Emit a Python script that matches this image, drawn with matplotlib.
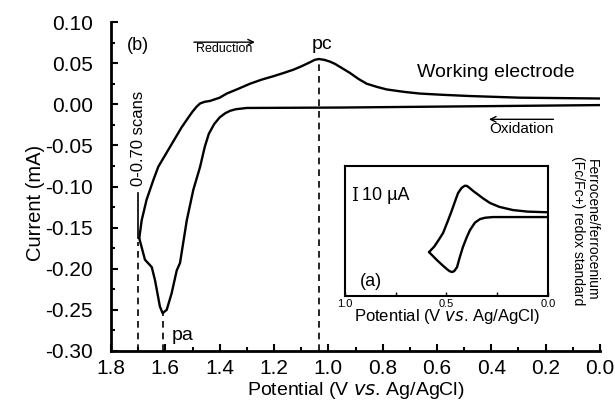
import matplotlib
matplotlib.use("Agg")
import matplotlib.pyplot as plt
from matplotlib.ticker import MultipleLocator, FormatStrFormatter

plt.rcParams['font.family'] = ['Liberation Sans', 'DejaVu Sans']

# Main CV (b): potential (V vs Ag/AgCl) and current (mA)
fwd_v = [1.696, 1.687, 1.669, 1.644, 1.626, 1.583, 1.540, 1.515, 1.500, 1.485, 1.472,
         1.455, 1.436, 1.40, 1.374, 1.33, 1.288, 1.245, 1.203, 1.165, 1.129, 1.10,
         1.068, 1.05, 1.035, 1.015, 0.995, 0.975, 0.95, 0.92, 0.89, 0.859, 0.82,
         0.785, 0.72, 0.663, 0.58, 0.479, 0.295, 0.0]
fwd_i = [-0.163, -0.141, -0.116, -0.092, -0.076, -0.052, -0.028, -0.016, -0.009, -0.003, 0.001,
         0.003, 0.004, 0.008, 0.013, 0.019, 0.025, 0.030, 0.034, 0.038, 0.042, 0.046,
         0.051, 0.054, 0.055, 0.054, 0.052, 0.049, 0.044, 0.038, 0.031, 0.025, 0.021,
         0.018, 0.015, 0.013, 0.0115, 0.010, 0.008, 0.007]
rev_v = [0.0, 0.957, 1.30, 1.34, 1.362, 1.38, 1.40, 1.42, 1.44, 1.455, 1.472, 1.497,
         1.521, 1.546, 1.558, 1.577, 1.595, 1.610, 1.620, 1.638, 1.650, 1.675, 1.696]
rev_i = [-0.001, -0.004, -0.0045, -0.006, -0.008, -0.011, -0.016, -0.024, -0.036, -0.052,
         -0.076, -0.104, -0.141, -0.193, -0.202, -0.230, -0.250, -0.254, -0.246, -0.214,
         -0.198, -0.189, -0.163]

# Inset (a): ferrocene standard, potential (V) and current (uA)
ins_up_v = [0.586, 0.56, 0.535, 0.517, 0.495, 0.473, 0.455, 0.443, 0.425, 0.41, 0.399,
            0.385, 0.365, 0.35, 0.32, 0.286, 0.24, 0.172, 0.10, 0.0]
ins_up_i = [-21.8, -18.5, -14.0, -10.6, -4.0, 2.9, 9.0, 12.9, 16.0, 17.2, 17.1,
            15.8, 13.8, 12.5, 9.8, 7.1, 4.8, 2.9, 2.0, 1.6]
ins_lo_v = [0.0, 0.271, 0.31, 0.335, 0.36, 0.384, 0.40, 0.419, 0.435, 0.448, 0.462,
            0.473, 0.485, 0.498, 0.52, 0.547, 0.586]
ins_lo_i = [-1.2, -1.2, -1.6, -2.4, -4.5, -8.8, -13.0, -18.8, -25.0, -30.6, -33.0,
            -33.5, -33.0, -31.8, -29.5, -26.5, -21.8]

pc_v, pc_i = 1.035, 0.055
pa_v, pa_i = 1.61, -0.254
scan_v, scan_i = 1.70, -0.163

fig = plt.figure(figsize=(6.15, 4.01), dpi=100)
ax = fig.add_axes([0.1805, 0.1247, 0.7951, 0.8204])

kw = dict(color='black', lw=1.7, solid_joinstyle='round', solid_capstyle='round')
ax.plot(fwd_v, fwd_i, **kw)
ax.plot(rev_v, rev_i, **kw)

ax.set_xlim(1.8, 0.0)
ax.set_ylim(-0.30, 0.10)
for s in ['top', 'right']:
    ax.spines[s].set_visible(False)
for s in ['left', 'bottom']:
    ax.spines[s].set_linewidth(2)
ax.xaxis.set_major_locator(MultipleLocator(0.2))
ax.xaxis.set_minor_locator(MultipleLocator(0.1))
ax.yaxis.set_major_locator(MultipleLocator(0.05))
ax.yaxis.set_minor_locator(MultipleLocator(0.025))
ax.tick_params(which='both', direction='in', width=1.5, labelsize=15)
ax.tick_params(which='major', length=5)
ax.tick_params(which='minor', length=3)
ax.tick_params(axis='x', which='major', pad=6)
ax.tick_params(axis='y', which='major', pad=13)
ax.xaxis.set_major_formatter(FormatStrFormatter('%.1f'))
ax.yaxis.set_major_formatter(FormatStrFormatter('%.2f'))
ax.set_xlabel('Potential (V $\\it{vs}$. Ag/AgCl)', fontsize=14)
ax.xaxis.set_label_coords(0.5, -0.087)
ax.set_ylabel('Current (mA)', fontsize=14.5)
ax.yaxis.set_label_coords(-0.135, 0.45)

# marker lines
dash = (0, (4, 3))
ax.plot([pc_v, pc_v], [-0.30, pc_i], color='black', lw=1.2, ls=dash)
ax.plot([pa_v, pa_v], [-0.30, pa_i], color='black', lw=1.2, ls=dash)
ax.plot([scan_v, scan_v], [-0.30, scan_i - 0.005], color='black', lw=1.2, ls=dash)
ax.plot([scan_v, scan_v], [scan_i, -0.108], color='black', lw=1.2)

ax.text(1.70, -0.041, '0-0.70 scans', rotation=90, fontsize=12, ha='center', va='center')
ax.text(1.70, 0.072, '(b)', fontsize=13, ha='center', va='center')
ax.text(1.024, 0.073, 'pc', fontsize=14, ha='center', va='center')
ax.text(1.576, -0.281, 'pa', fontsize=14, ha='left', va='center')
ax.text(0.674, 0.039, 'Working electrode', fontsize=14, ha='left', va='center')

ax.annotate('', xy=(1.26, 0.0755), xytext=(1.505, 0.0755),
            arrowprops=dict(arrowstyle='->', lw=1.0, color='black'))
ax.text(1.384, 0.0675, 'Reduction', fontsize=9, ha='center', va='center')
ax.annotate('', xy=(0.419, -0.0183), xytext=(0.161, -0.0183),
            arrowprops=dict(arrowstyle='->', lw=1.0, color='black'))
ax.text(0.291, -0.0305, 'Oxidation', fontsize=11, ha='center', va='center')

fig.text(0.951, 0.426, 'Ferrocene/ferrocenium\n(Fc/Fc+) redox standard',
         rotation=270, fontsize=10, ha='center', va='center', linespacing=0.95)

# inset
ins = fig.add_axes([0.561, 0.2618, 0.330, 0.3242])
ins.plot(ins_up_v, ins_up_i, **kw)
ins.plot(ins_lo_v, ins_lo_i, **kw)
ins.set_xlim(1.0, 0.0)
ins.set_ylim(-47.6, 28.8)
for s in ins.spines.values():
    s.set_linewidth(1.5)
ins.xaxis.set_major_locator(MultipleLocator(0.5))
ins.xaxis.set_minor_locator(MultipleLocator(0.25))
ins.xaxis.set_major_formatter(FormatStrFormatter('%.1f'))
ins.set_yticks([])
ins.tick_params(axis='x', which='both', direction='in', width=1.0, labelsize=8, pad=2)
ins.tick_params(axis='x', which='major', length=3)
ins.tick_params(axis='x', which='minor', length=3)
ins.set_xlabel('Potential (V $\\it{vs}$. Ag/AgCl)', fontsize=12, labelpad=-1)
ins.text(0.03, 0.77, 'I', family='DejaVu Serif', fontsize=13, transform=ins.transAxes,
         ha='left', va='center')
ins.text(0.083, 0.775, '10 µA', fontsize=13, transform=ins.transAxes, ha='left', va='center')
ins.text(0.13, 0.115, '(a)', fontsize=13, transform=ins.transAxes, ha='center', va='center')

fig.savefig('out.png', dpi=100)
